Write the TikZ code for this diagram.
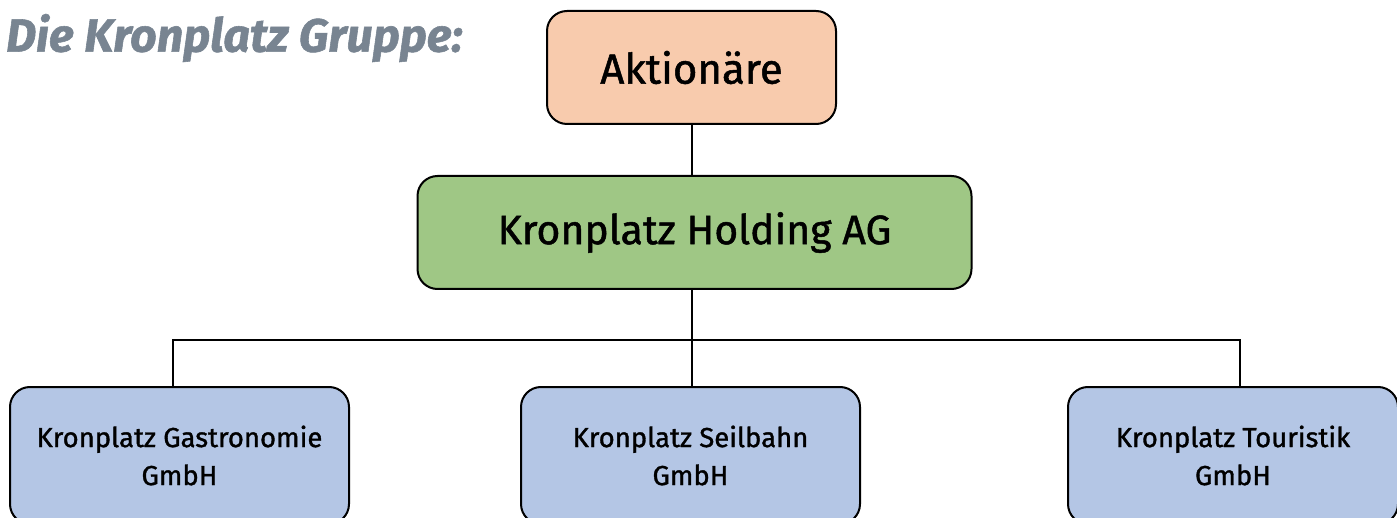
\documentclass[tikz,border=0pt]{standalone}
\usepackage{fontspec}
\setmainfont{Fira Sans}[FakeBold=1.2, BoldFeatures={FakeBold=0}]
\usepackage{xcolor}
\definecolor{kpTitle}{HTML}{788491}
\definecolor{kpOrange}{HTML}{F8CBAD}
\definecolor{kpGreen}{HTML}{9FC785}
\definecolor{kpBlue}{HTML}{B4C6E5}
\tikzset{
  kpbox/.style={draw=black, line width=2pt, rounded corners=20pt, inner sep=0pt, align=center},
  kpline/.style={draw=black, line width=2pt}
}

\begin{document}
\begin{tikzpicture}[x=1pt,y=-1pt]
\useasboundingbox (0,0) rectangle (1397,518);
\clip (0,0) rectangle (1397,518);
\node[anchor=west, inner sep=0pt, text=kpTitle, font=\fontsize{46.5}{52}\selectfont\bfseries\itshape] (title) at (6,38) {Die Kronplatz Gruppe:};
\node[kpbox, fill=kpOrange, minimum width=289pt, minimum height=113pt, font=\fontsize{42}{48}\selectfont] (akt) at (691.5,67.5) {Aktionäre};
\node[kpbox, fill=kpGreen, minimum width=554pt, minimum height=113pt, font=\fontsize{41}{47}\selectfont] (hold) at (694.5,232.5) {Kronplatz Holding AG};
\node[kpbox, fill=kpBlue, minimum width=339pt, minimum height=137pt, font=\fontsize{27.5}{38}\selectfont] (gastro) at (179.5,455.5) {Kronplatz Gastronomie\\GmbH};
\node[kpbox, fill=kpBlue, minimum width=339pt, minimum height=137pt, font=\fontsize{27.5}{38}\selectfont] (seil) at (690.5,455.5) {Kronplatz Seilbahn\\GmbH};
\node[kpbox, fill=kpBlue, minimum width=330pt, minimum height=137pt, font=\fontsize{27.5}{38}\selectfont] (tour) at (1233,455.5) {Kronplatz Touristik\\GmbH};
% Verbindungen
\coordinate (busL) at (173,340);
\coordinate (busR) at (1240,340);
\draw[kpline] (akt.south) -- (akt.south |- hold.north);
\draw[kpline] (akt.south |- hold.south) -- (akt.south |- seil.north);
\draw[kpline] (busL |- gastro.north) -- (busL) -- (busR) -- (busR |- tour.north);
\end{tikzpicture}
\end{document}
